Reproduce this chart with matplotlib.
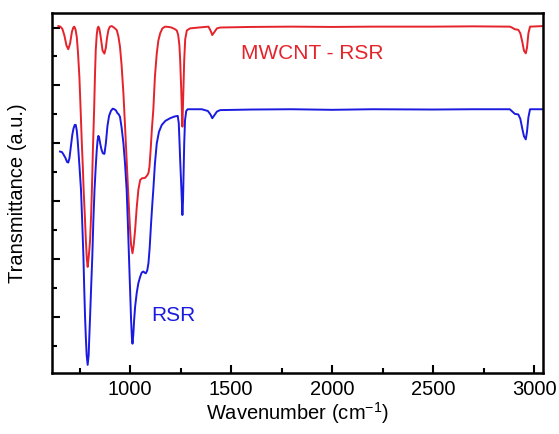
import matplotlib
matplotlib.use("Agg")
import matplotlib.pyplot as plt
from matplotlib.ticker import MultipleLocator, NullFormatter

plt.rcParams['font.family'] = ['Liberation Sans', 'DejaVu Sans']
plt.rcParams['mathtext.fontset'] = 'custom'
plt.rcParams['mathtext.rm'] = 'Liberation Sans'

# MWCNT - RSR spectrum (wavenumber, transmittance a.u.)
red_x = [645, 655, 665, 675, 685, 694, 703, 712, 719, 724, 730, 736, 742, 749, 755, 761,
         766, 770, 776, 781, 786, 790, 794, 798, 802, 807, 811, 816, 822, 826, 830, 835,
         839, 843, 848, 853, 858, 864, 873, 880, 886, 893, 900, 909, 920, 928, 934, 942,
         950, 958, 967, 975, 983, 990, 995, 1000, 1005, 1012, 1018, 1025, 1033, 1041,
         1050, 1060, 1074, 1085, 1091, 1096, 1102, 1108, 1115, 1123, 1132, 1140, 1149,
         1160, 1173, 1190, 1205, 1220, 1231, 1238, 1244, 1248, 1253, 1259, 1263, 1268,
         1273, 1281, 1297, 1340, 1388, 1398, 1407, 1418, 1430, 1446, 1600, 1800, 2000,
         2200, 2500, 2700, 2880, 2890, 2905, 2922, 2932, 2942, 2950, 2959, 2965, 2972,
         2980, 3046]
red_y = [12.05, 12.03, 11.95, 11.72, 11.38, 11.25, 11.45, 11.85, 12.0, 12.03, 11.93, 11.68,
         11.15, 10.30, 9.2, 8.02, 7.2, 6.40, 5.5, 4.67, 4.0, 3.74, 4.0, 4.3, 4.67, 5.5,
         6.40, 7.8, 9.16, 10.3, 11.22, 11.75, 11.97, 12.03, 11.95, 11.75, 11.5, 11.2,
         11.1, 11.3, 11.65, 11.92, 12.03, 12.05, 12.0, 11.95, 11.91, 11.7, 11.34, 10.7,
         9.73, 8.6, 7.43, 6.4, 5.7, 5.02, 4.5, 4.21, 4.5, 5.02, 5.8, 6.40, 6.74, 6.8,
         6.81, 6.9, 6.98, 7.2, 7.8, 8.5, 9.16, 10.3, 11.1, 11.55, 11.8, 11.97, 12.03,
         12.02, 12.0, 11.95, 11.9, 11.75, 11.4, 10.88, 9.9, 8.58, 9.6, 10.88, 11.6, 11.9,
         11.97, 12.0, 12.03, 11.9, 11.74, 11.85, 11.97, 12.0, 12.02, 12.03, 12.02, 12.03,
         12.03, 12.04, 12.03, 12.0, 11.94, 11.92, 11.8, 11.5, 11.2, 11.11, 11.3, 11.8,
         12.03, 12.05]

# RSR spectrum
blue_x = [653, 663, 672, 680, 688, 694, 700, 707, 714, 720, 726, 731, 736, 740, 744, 750,
          757, 763, 769, 773, 777, 781, 785, 790, 795, 798, 802, 807, 813, 818, 824, 830,
          835, 839, 843, 847, 852, 858, 865, 873, 880, 888, 896, 905, 914, 922, 930, 937,
          944, 950, 958, 967, 975, 983, 989, 994, 1000, 1005, 1009, 1012, 1016, 1020,
          1025, 1033, 1041, 1050, 1058, 1066, 1072, 1078, 1085, 1091, 1097, 1104, 1110,
          1115, 1123, 1132, 1143, 1157, 1175, 1198, 1220, 1236, 1241, 1245, 1248, 1253,
          1257, 1259, 1262, 1265, 1268, 1272, 1278, 1285, 1355, 1385, 1398, 1407, 1418,
          1430, 1446, 1600, 1800, 2000, 2200, 2500, 2700, 2880, 2905, 2922, 2932, 2942,
          2950, 2959, 2965, 2972, 2980, 3046]
blue_y = [7.72, 7.70, 7.6, 7.5, 7.36, 7.34, 7.5, 7.9, 8.3, 8.52, 8.64, 8.64, 8.45, 8.15,
          7.77, 7.15, 6.40, 5.3, 4.10, 3.0, 2.03, 1.3, 0.7, 0.36, 0.7, 1.3, 2.03, 3.0,
          4.10, 5.3, 6.40, 7.2, 7.77, 8.1, 8.26, 8.2, 8.0, 7.8, 7.66, 7.64, 8.0, 8.6,
          8.95, 9.12, 9.2, 9.18, 9.14, 9.05, 9.0, 8.92, 8.55, 8.01, 7.3, 6.40, 5.26, 4.2,
          2.95, 1.9, 1.3, 1.09, 1.4, 1.9, 2.37, 2.85, 3.18, 3.4, 3.55, 3.58, 3.54, 3.52,
          3.62, 3.87, 4.4, 5.25, 5.9, 6.40, 7.3, 8.0, 8.4, 8.64, 8.78, 8.87, 8.93, 8.95,
          8.7, 8.0, 7.43, 6.6, 5.9, 5.53, 6.0, 7.0, 8.0, 8.8, 9.12, 9.18, 9.18, 9.12,
          9.0, 8.87, 8.98, 9.1, 9.15, 9.17, 9.18, 9.16, 9.18, 9.17, 9.18, 9.18, 9.02, 9.0,
          8.85, 8.5, 8.25, 8.14, 8.4, 8.9, 9.18, 9.18]

x_major = [1000, 1500, 2000, 2500, 3000]
x_labels = ['1000', '1500', '2000', '2500', '3000']

red_c = '#e5232b'
blue_c = '#1a1ae0'

fig = plt.figure(figsize=(5.59, 4.34), dpi=100)
ax = fig.add_axes([0.0925, 0.1406, 0.8795, 0.8294])

ax.plot(red_x, red_y, color=red_c, lw=1.4)
ax.plot(blue_x, blue_y, color=blue_c, lw=1.4)

ax.set_xlim(612, 3046)
ax.set_ylim(0.08, 12.5)

ax.set_xticks(x_major)
ax.set_xticklabels(x_labels)
ax.xaxis.set_minor_locator(MultipleLocator(500, offset=250))
ax.yaxis.set_major_locator(MultipleLocator(2))
ax.yaxis.set_minor_locator(MultipleLocator(1))
ax.yaxis.set_major_formatter(NullFormatter())

ax.tick_params(which='both', direction='in', width=1.5, top=False, right=False)
ax.tick_params(which='major', length=6)
ax.tick_params(which='minor', length=3.5)
ax.tick_params(axis='x', labelsize=14.5, pad=5)
for s in ax.spines.values():
    s.set_linewidth(1.8)

ax.set_xlabel(r'Wavenumber (cm$^{\mathregular{-1}}$)', fontsize=14.5, labelpad=1)
ax.set_ylabel('Transmittance (a.u.)', fontsize=14.5, labelpad=14)

ax.text(1900, 11.1, 'MWCNT - RSR', color=red_c, fontsize=15, ha='center', va='center')
ax.text(1215, 2.07, 'RSR', color=blue_c, fontsize=15, ha='center', va='center')

fig.savefig('out.png', dpi=100)
